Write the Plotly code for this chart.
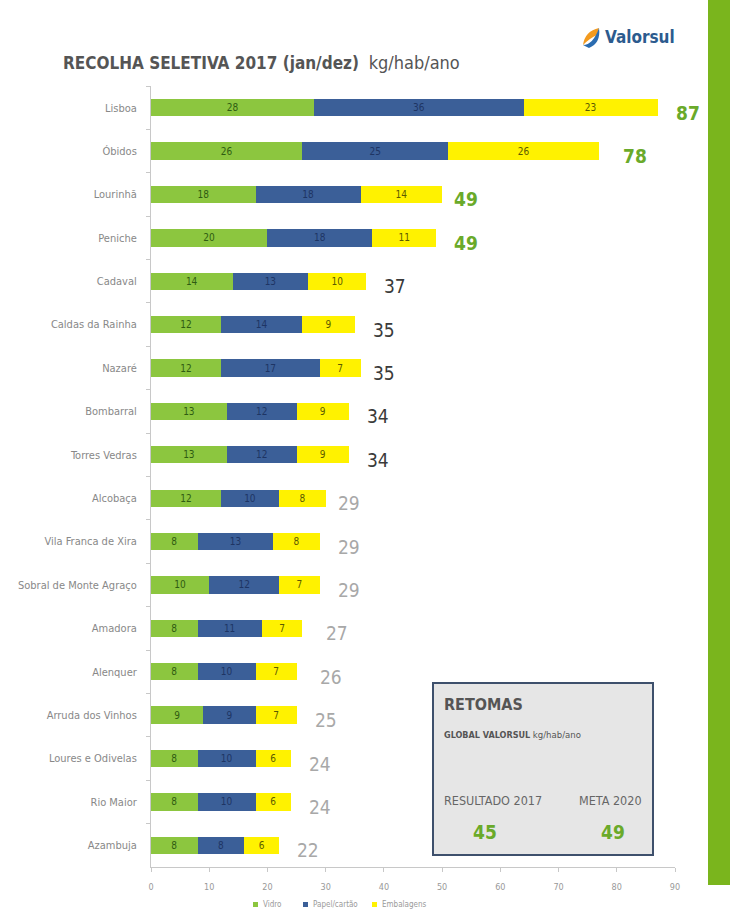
import plotly.graph_objects as go

categories = ["Lisboa", "Óbidos", "Lourinhã", "Peniche", "Cadaval", "Caldas da Rainha",
              "Nazaré", "Bombarral", "Torres Vedras", "Alcobaça", "Vila Franca de Xira",
              "Sobral de Monte Agraço", "Amadora", "Alenquer", "Arruda dos Vinhos",
              "Loures e Odivelas", "Rio Maior", "Azambuja"]
vidro = [28, 26, 18, 20, 14, 12, 12, 13, 13, 12, 8, 10, 8, 8, 9, 8, 8, 8]
papel = [36, 25, 18, 18, 13, 14, 17, 12, 12, 10, 13, 12, 11, 10, 9, 10, 10, 8]
embal = [23, 26, 14, 11, 10, 9, 7, 9, 9, 8, 8, 7, 7, 7, 7, 6, 6, 6]
totais = [87, 78, 49, 49, 37, 35, 35, 34, 34, 29, 29, 29, 27, 26, 25, 24, 24, 22]
series_names = ["Vidro", "Papel/cartão", "Embalagens"]
x_ticks = [0, 10, 20, 30, 40, 50, 60, 70, 80, 90]

W, H = 730, 911
ML, MR, MT, MB = 151, 55, 86, 44
PW, PH = W - ML - MR, H - MT - MB

def px(x):
    return (x - ML) / PW

def py(y):
    return (H - MB - y) / PH

COND = "DejaVu Sans Condensed, Liberation Sans Narrow, Arial Narrow, sans-serif"

fig = go.Figure()
colors = ["#8cc63f", "#3b5f98", "#fff200"]
txtcol = ["#2f5c12", "#1e3564", "#5c5a00"]
for name, vals, c, tc in zip(series_names, [vidro, papel, embal], colors, txtcol):
    fig.add_trace(go.Bar(
        y=categories, x=vals, name=name, orientation="h",
        marker=dict(color=c, line=dict(width=0)),
        text=vals, textposition="inside", insidetextanchor="middle", textangle=0,
        textfont=dict(color=tc, size=10, family=COND),
        constraintext="none", showlegend=False,
    ))

for i, (cat, t) in enumerate(zip(categories, totais)):
    if t >= 49:
        col, txt = "#6aaa2a", f"<b>{t}</b>"
    elif t >= 34:
        col, txt = "#3a3a3a", str(t)
    else:
        col, txt = "#a8a8a8", str(t)
    fig.add_annotation(x=t, y=cat, xref="x", yref="y", text=txt, showarrow=False,
                       xanchor="left", xshift=16, yshift=-5,
                       font=dict(size=19, color=col, family=COND))

shapes = []
shapes.append(dict(type="rect", xref="paper", yref="paper", x0=px(708), x1=px(731),
                   y0=py(885), y1=py(-1), fillcolor="#7ab51d", line=dict(width=0), layer="below"))
shapes.append(dict(type="rect", xref="paper", yref="paper", x0=px(433), x1=px(653),
                   y0=py(855), y1=py(683), fillcolor="#e6e6e6",
                   line=dict(color="#3e506c", width=2), layer="above"))
shapes.append(dict(type="path", xref="paper", yref="paper",
                   path=f"M {px(583)},{py(45)} Q {px(585)},{py(31)} {px(599)},{py(28)} L {px(597)},{py(35)} Q {px(590)},{py(38)} {px(583)},{py(45)} Z",
                   fillcolor="#f39a1e", line=dict(width=0)))
shapes.append(dict(type="path", xref="paper", yref="paper",
                   path=f"M {px(583)},{py(45)} Q {px(593)},{py(45)} {px(599)},{py(28)} Q {px(601)},{py(43)} {px(589)},{py(48)} Z",
                   fillcolor="#2b6cb0", line=dict(width=0)))

ann = []
leg_x = [253, 303, 372]
for lx, name, c in zip(leg_x, series_names, colors):
    shapes.append(dict(type="rect", xref="paper", yref="paper", x0=px(lx), x1=px(lx + 5),
                       y0=py(907), y1=py(902), fillcolor=c, line=dict(width=0)))
    ann.append(dict(xref="paper", yref="paper", x=px(lx + 8), y=py(904.5), xanchor="left",
                    yanchor="middle", text=name, showarrow=False,
                    font=dict(size=8, color="#9a9a9a", family=COND)))

ann.append(dict(xref="paper", yref="paper", x=px(61), y=py(63), xanchor="left", yanchor="middle",
                text="<b>RECOLHA SELETIVA 2017 (jan/dez)</b>  <span style='font-size:18px'>kg/hab/ano</span>",
                showarrow=False, font=dict(size=17, color="#555555", family=COND)))
ann.append(dict(xref="paper", yref="paper", x=px(603), y=py(37), xanchor="left", yanchor="middle",
                text="<b>Valorsul</b>", showarrow=False,
                font=dict(size=17, color="#2c5b8e", family=COND)))
ann.append(dict(xref="paper", yref="paper", x=px(442), y=py(704), xanchor="left", yanchor="middle",
                text="<b>RETOMAS</b>", showarrow=False,
                font=dict(size=16, color="#555555", family=COND)))
ann.append(dict(xref="paper", yref="paper", x=px(442), y=py(734), xanchor="left", yanchor="middle",
                text="<b>GLOBAL VALORSUL</b> <span style='font-size:9.5px'>kg/hab/ano</span>", showarrow=False,
                font=dict(size=9, color="#555555", family=COND)))
ann.append(dict(xref="paper", yref="paper", x=px(442), y=py(800), xanchor="left", yanchor="middle",
                text="RESULTADO 2017", showarrow=False,
                font=dict(size=12.5, color="#666666", family=COND)))
ann.append(dict(xref="paper", yref="paper", x=px(644), y=py(800), xanchor="right", yanchor="middle",
                text="META 2020", showarrow=False,
                font=dict(size=12.5, color="#666666", family=COND)))
ann.append(dict(xref="paper", yref="paper", x=px(485), y=py(832), xanchor="center", yanchor="middle",
                text="<b>45</b>", showarrow=False,
                font=dict(size=19, color="#6aaa2a", family=COND)))
ann.append(dict(xref="paper", yref="paper", x=px(613), y=py(832), xanchor="center", yanchor="middle",
                text="<b>49</b>", showarrow=False,
                font=dict(size=19, color="#6aaa2a", family=COND)))

fig.update_layout(
    width=W, height=H, margin=dict(l=ML, r=MR, t=MT, b=MB),
    barmode="stack", bargap=0.6,
    paper_bgcolor="white", plot_bgcolor="white",
    font=dict(family=COND, color="#888888"),
    shapes=shapes, annotations=list(fig.layout.annotations) + ann,
    showlegend=False,
    xaxis=dict(range=[0, 90], tickvals=x_ticks, showgrid=False, zeroline=False,
               showline=True, linecolor="#c8c8c8", linewidth=1, ticks="outside",
               ticklen=4, tickcolor="#c8c8c8", tickfont=dict(size=9, color="#999999"),
               ticklabelstandoff=7, fixedrange=True, automargin=False),
    yaxis=dict(autorange="reversed", showgrid=False, showline=True, linecolor="#c8c8c8",
               linewidth=1, ticks="outside", tickson="boundaries", ticklen=4,
               tickcolor="#c8c8c8", tickfont=dict(size=11, color="#888888"),
               ticklabelstandoff=11, automargin=False),
)

fig.write_html("out.html", config={"displayModeBar": False},
               post_script="document.body.style.margin='0';document.body.style.overflow='hidden';")
